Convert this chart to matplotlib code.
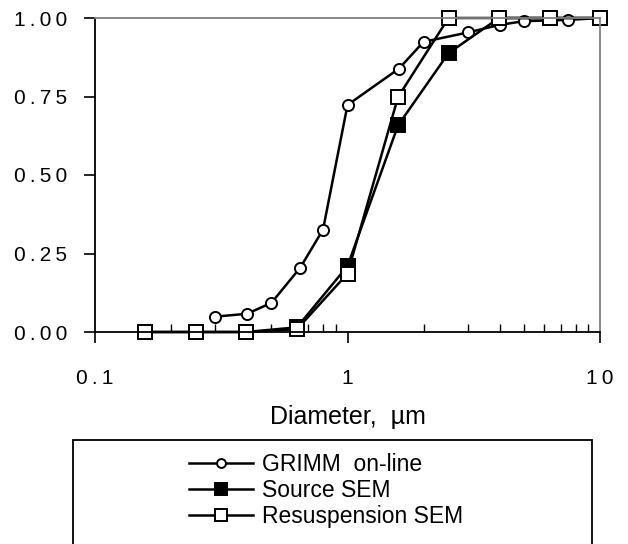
import matplotlib
matplotlib.use("Agg")
import matplotlib.pyplot as plt
from matplotlib.patches import Rectangle
from matplotlib.ticker import FixedLocator, FuncFormatter, LogLocator, NullFormatter

plt.rcParams['font.family'] = ['Liberation Sans', 'DejaVu Sans']

# cumulative size distributions
grimm_d = [0.3, 0.4, 0.5, 0.65, 0.8, 1.0, 1.6, 2.0, 3.0, 4.0, 5.0, 7.5, 10.0]
grimm_f = [0.049, 0.058, 0.093, 0.205, 0.326, 0.723, 0.839, 0.924, 0.954, 0.978, 0.99, 0.994, 1.0]

sem_d = [0.158, 0.251, 0.398, 0.631, 1.0, 1.585, 2.512, 3.981, 6.31, 10.0]
source_f = [0.0, 0.0, 0.0, 0.015, 0.21, 0.658, 0.888, 1.0, 1.0, 1.0]
resusp_f = [0.0, 0.0, 0.0, 0.009, 0.186, 0.748, 1.0, 1.0, 1.0, 1.0]

y_ticks = [0.0, 0.25, 0.5, 0.75, 1.0]
x_ticks = [0.1, 1, 10]


def spaced(s):  # the original labels have wide letter spacing
    return '\u2009'.join(s)


fig = plt.figure(figsize=(6.28, 5.44), dpi=100)
ax = fig.add_axes([95 / 628, 212 / 544, 505 / 628, 314 / 544])

ax.plot(grimm_d, grimm_f, color='black', lw=1.8, marker='o', ms=8,
        mfc='white', mec='black', mew=1.4, label='GRIMM  on-line', clip_on=False)
ax.plot(sem_d, source_f, color='black', lw=1.8, marker='s', ms=10,
        mfc='black', mec='black', mew=1.4, label='Source SEM', clip_on=False)
ax.plot(sem_d, resusp_f, color='black', lw=1.8, marker='s', ms=10,
        mfc='white', mec='black', mew=1.4, label='Resuspension SEM', clip_on=False)

ax.set_xscale('log')
ax.set_xlim(0.1, 10)
ax.set_ylim(0, 1)

ax.xaxis.set_major_locator(FixedLocator(x_ticks))
ax.xaxis.set_major_formatter(FuncFormatter(lambda v, p: spaced('%g' % v)))
ax.xaxis.set_minor_locator(LogLocator(base=10, subs=range(2, 10)))
ax.xaxis.set_minor_formatter(NullFormatter())
ax.yaxis.set_major_locator(FixedLocator(y_ticks))
ax.yaxis.set_major_formatter(FuncFormatter(lambda v, p: spaced('%.2f' % v)))

ax.tick_params(axis='x', which='major', direction='out', length=8, width=1.2,
               pad=19, labelsize=15)
ax.tick_params(axis='x', which='minor', direction='in', length=6, width=1.0)
ax.tick_params(axis='y', which='major', direction='out', length=8, width=1.2,
               pad=12, labelsize=15)

for side in ['left', 'bottom']:
    ax.spines[side].set_color('black')
    ax.spines[side].set_linewidth(1.3)
for side in ['top', 'right']:
    ax.spines[side].set_color('#808080')
    ax.spines[side].set_linewidth(1.3)

ax.set_xlabel('Diameter,  µm', fontsize=18)
ax.xaxis.set_label_coords(0.5, -0.232)

# legend box runs off the bottom of the picture
fig.patches.append(Rectangle((73 / 628, -0.1), (592 - 73) / 628, 0.1 + 104 / 544,
                             transform=fig.transFigure, fill=False,
                             edgecolor='black', lw=1.3))
fig.legend(loc='upper left', bbox_to_anchor=(180 / 628, 1 - 444 / 544),
           frameon=False, fontsize=16.5, handlelength=2.8, handletextpad=0.4,
           labelspacing=0.12, markerscale=0.8, borderaxespad=0)

fig.savefig('out.png', dpi=100)
